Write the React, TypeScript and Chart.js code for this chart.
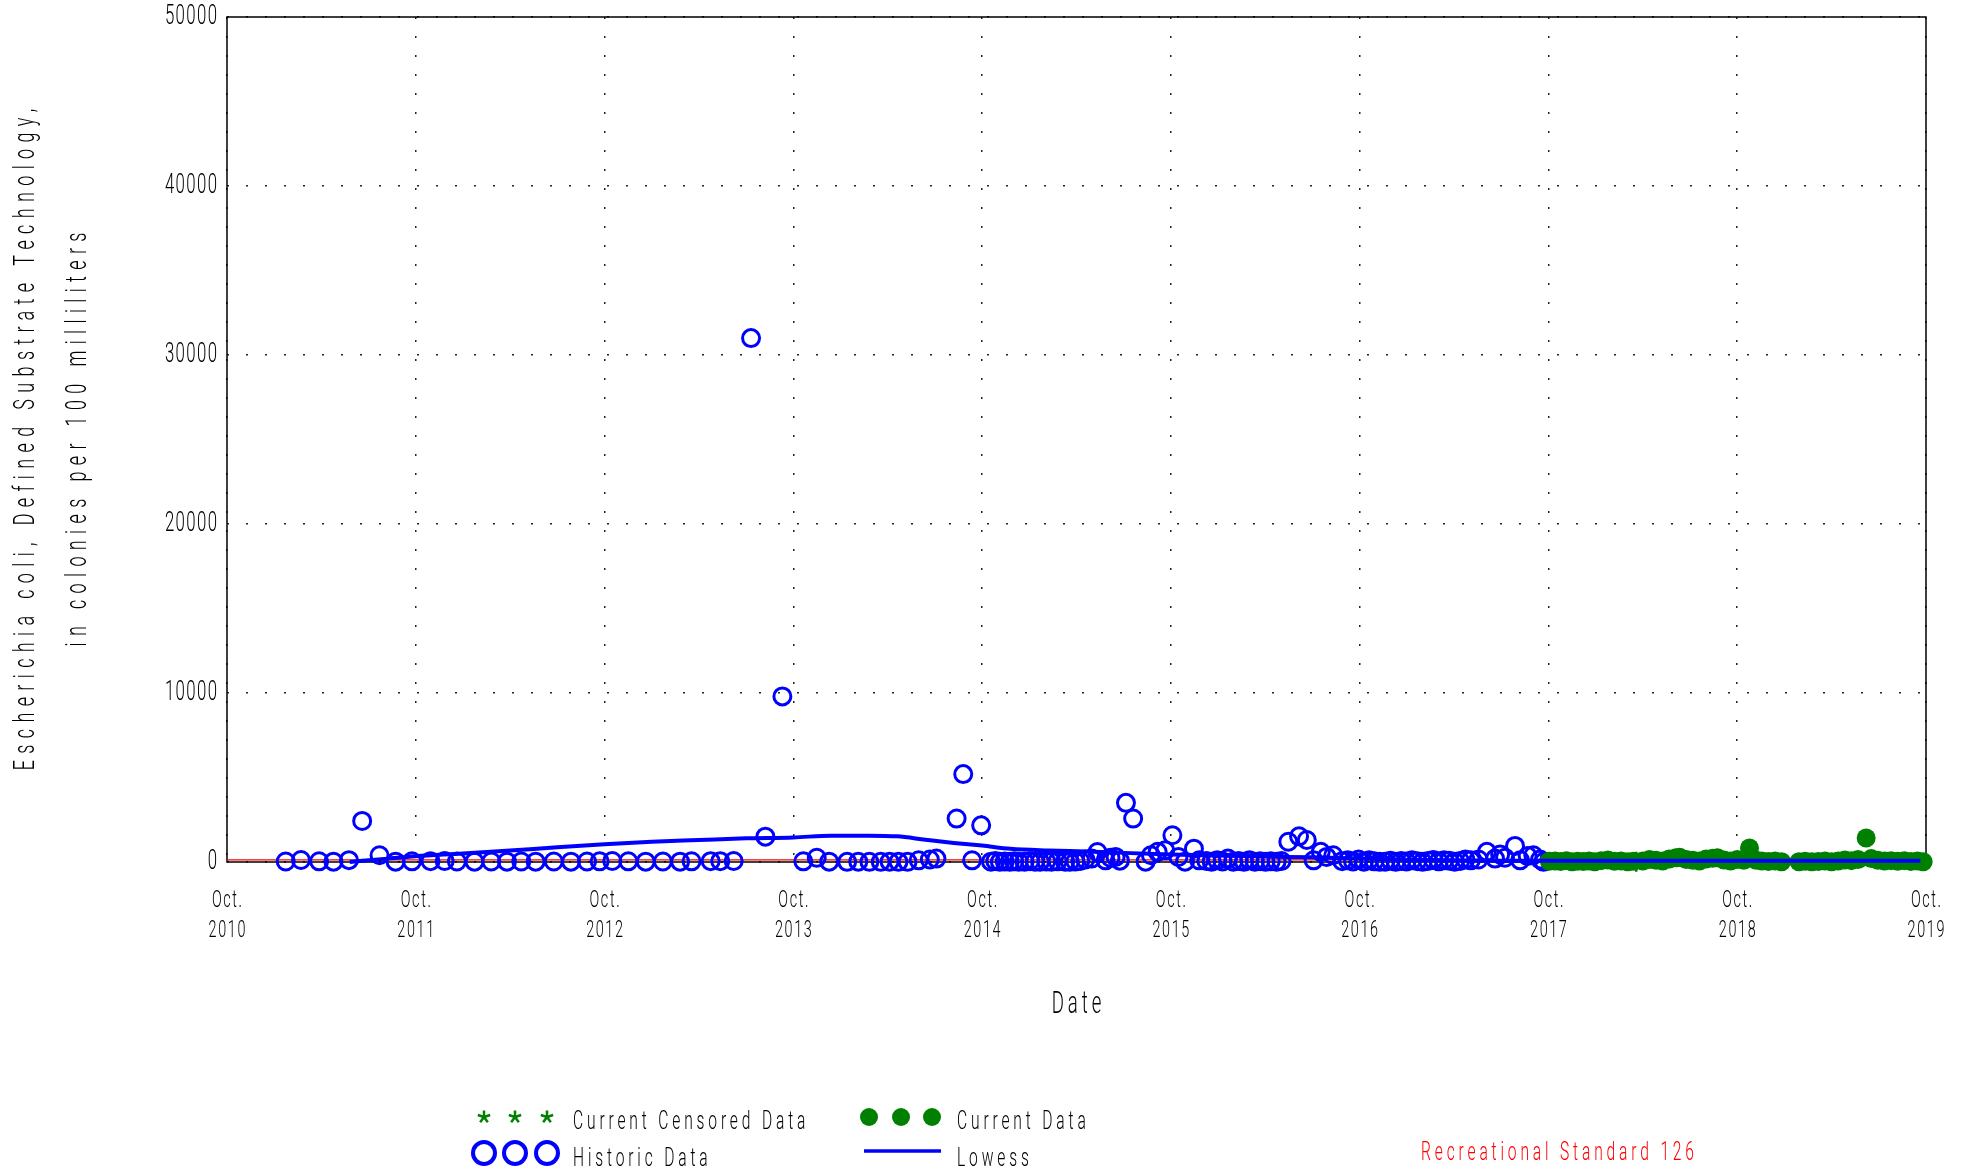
import React, { useEffect, useRef } from 'react';
import { Chart, registerables } from 'chart.js';

Chart.register(...registerables);

// ---------- data ----------
const X_TICKS = [2010.75, 2011.75, 2012.75, 2013.75, 2014.75, 2015.75, 2016.75, 2017.75, 2018.75, 2019.75];
const Y_TICKS = [0, 10000, 20000, 30000, 40000, 50000];
const STANDARD = 126;

const HIST_X = [
  2011.061, 2011.142, 2011.238, 2011.314, 2011.396, 2011.466, 2011.558, 2011.643, 2011.73, 2011.828,
  2011.903, 2011.968, 2012.061, 2012.15, 2012.233, 2012.309, 2012.385, 2012.481, 2012.572, 2012.657,
  2012.724, 2012.791, 2012.876, 2012.968, 2013.059, 2013.15, 2013.211, 2013.312, 2013.363, 2013.434,
  2013.526, 2013.602, 2013.692, 2013.803, 2013.874, 2013.94, 2014.035, 2014.094, 2014.153, 2014.213,
  2014.26, 2014.307, 2014.355, 2014.414, 2014.473, 2014.508, 2014.615, 2014.65, 2014.697, 2014.745,
  2014.797, 2014.82, 2014.844, 2014.87, 2014.897, 2014.92, 2014.944, 2014.975, 2015.004, 2015.03,
  2015.057, 2015.09, 2015.117, 2015.15, 2015.19, 2015.215, 2015.244, 2015.27, 2015.297, 2015.33,
  2015.361, 2015.404, 2015.43, 2015.457, 2015.48, 2015.512, 2015.55, 2015.616, 2015.644, 2015.68,
  2015.72, 2015.758, 2015.79, 2015.825, 2015.872, 2015.9, 2015.938, 2015.966, 2015.995, 2016.024,
  2016.052, 2016.08, 2016.109, 2016.137, 2016.166, 2016.195, 2016.223, 2016.251, 2016.279, 2016.31,
  2016.336, 2016.372, 2016.429, 2016.47, 2016.506, 2016.544, 2016.575, 2016.61, 2016.657, 2016.687,
  2016.715, 2016.744, 2016.772, 2016.8, 2016.828, 2016.856, 2016.885, 2016.913, 2016.941, 2016.97,
  2016.998, 2017.027, 2017.055, 2017.083, 2017.112, 2017.14, 2017.169, 2017.197, 2017.225, 2017.253,
  2017.282, 2017.31, 2017.339, 2017.38, 2017.424, 2017.467, 2017.494, 2017.52, 2017.573, 2017.6,
  2017.64, 2017.67, 2017.706, 2017.724,
];
const HIST_Y = [
  30, 120, 40, 20, 110, 2430, 400, 20, 40, 50,
  60, 30, 20, 30, 20, 30, 20, 30, 20, 30,
  40, 60, 40, 20, 30, 20, 40, 50, 50, 60,
  31000, 1500, 9800, 40, 250, 20, 10, 20, 10, 10,
  20, 10, 10, 100, 150, 200, 2570, 5200, 100, 2170,
  20, 60, 10, 30, 10, 40, 20, 10, 50, 20,
  10, 30, 20, 40, 20, 10, 30, 60, 150, 200,
  590, 100, 250, 300, 80, 3500, 2570, 20, 400, 600,
  690, 1580, 300, 20, 790, 100, 60, 20, 100, 30,
  200, 20, 60, 10, 100, 20, 50, 10, 40, 20,
  60, 1200, 1520, 1300, 100, 600, 300, 400, 50, 100,
  30, 150, 20, 100, 40, 10, 20, 80, 10, 60,
  30, 100, 50, 10, 60, 120, 40, 100, 80, 20,
  60, 150, 100, 150, 600, 200, 450, 250, 950, 100,
  350, 400, 150, 10,
];

const CUR_X = [
  2017.755, 2017.785, 2017.815, 2017.845, 2017.875, 2017.905, 2017.935, 2017.965, 2017.995, 2018.03,
  2018.065, 2018.1, 2018.135, 2018.17, 2018.2, 2018.25, 2018.285, 2018.32, 2018.355, 2018.39,
  2018.425, 2018.445, 2018.48, 2018.515, 2018.55, 2018.585, 2018.62, 2018.645, 2018.68, 2018.715,
  2018.75, 2018.785, 2018.815, 2018.85, 2018.88, 2018.915, 2018.95, 2018.985, 2019.077, 2019.11,
  2019.145, 2019.18, 2019.215, 2019.25, 2019.285, 2019.32, 2019.355, 2019.39, 2019.433, 2019.46,
  2019.495, 2019.53, 2019.565, 2019.6, 2019.635, 2019.67, 2019.705, 2019.735,
];
const CUR_Y = [
  40, 60, 30, 80, 20, 50, 30, 60, 20, 80,
  120, 40, 60, 20, 40, 60, 150, 100, 60, 180,
  250, 280, 150, 100, 60, 180, 220, 250, 120, 60,
  150, 100, 830, 100, 60, 30, 60, 20, 20, 40,
  10, 30, 60, 20, 60, 120, 80, 150, 1420, 200,
  100, 60, 80, 40, 80, 30, 60, 20,
];

const CENS_X = [2018.215];
const CENS_Y = [10];

const LOWESS_X = [
  2011.4, 2011.6, 2011.75, 2012.0, 2012.25, 2012.5, 2012.75, 2013.0, 2013.25, 2013.5,
  2013.75, 2013.95, 2014.15, 2014.3, 2014.45, 2014.6, 2014.75, 2014.9, 2015.1, 2015.3,
  2015.5, 2015.75, 2016.0, 2016.25, 2016.5, 2016.75, 2017.0, 2017.25, 2017.5, 2017.75,
  2018.5, 2019.72,
];
const LOWESS_Y = [
  0, 200, 340, 500, 680, 870, 1050, 1200, 1300, 1400,
  1450, 1560, 1560, 1520, 1320, 1130, 970, 780, 680, 620,
  540, 450, 380, 320, 280, 200, 140, 100, 80, 70,
  70, 70,
];

const Y_TITLE = ['Escherichia coli, Defined Substrate Technology,', 'in colonies per 100 milliliters'];
const X_TITLE = 'Date';
const LEGEND_LABELS = ['Current Censored Data', 'Current Data', 'Historic Data', 'Lowess'];
const STANDARD_LABEL = 'Recreational Standard 126';

// ---------- styling ----------
const W = 1970;
const H = 1176;
const FAMILY = 'Roboto, "Liberation Sans", sans-serif';
const WEIGHT = 300;
const SX = 0.6;
const SPACING: Record<number, number> = { 24: 2.7, 26: 6.4, 28: 2.3, 30: 10.6, 31: 6.6 };
const BLUE = '#0000ff';
const GREEN = '#008000';

const pts = (xs: number[], ys: number[]) => xs.map((x, i) => ({ x, y: ys[i] }));

function patchText(ctx: CanvasRenderingContext2D) {
  const orig = CanvasRenderingContext2D.prototype.fillText;
  (ctx as any).fillText = function (text: string, x: number, y: number) {
    const m = /(\d+(?:\.\d+)?)px/.exec(this.font);
    const size = m ? Math.round(parseFloat(m[1])) : 12;
    const sp = SPACING[size] ?? 0;
    const align = this.textAlign;
    // compensate the trailing letter spacing so alignment stays on the glyphs
    const shift = align === 'center' ? (sp * SX) / 2 : align === 'right' || align === 'end' ? sp * SX : 0;
    this.save();
    try {
      (this as any).letterSpacing = sp + 'px';
    } catch (e) {}
    this.translate(x, y);
    this.translate(shift, 0);
    this.scale(SX, 1);
    orig.call(this, text, 0, 0);
    this.restore();
  };
}

const framePlugin = {
  id: 'frame',
  beforeDatasetsDraw(chart: any) {
    const { ctx, chartArea: a } = chart;
    ctx.save();
    ctx.strokeStyle = '#000';
    ctx.lineWidth = 1.5;
    ctx.strokeRect(a.left, a.top, a.right - a.left, a.bottom - a.top);
    ctx.restore();
  },
};

const legendPlugin = {
  id: 'customLegend',
  afterDraw(chart: any) {
    const ctx: CanvasRenderingContext2D = chart.ctx;
    ctx.save();
    const row1 = 1117;
    const row2 = 1153;
    const symX = [484, 515, 547];
    const symX2 = [869, 901, 932];
    // stars
    ctx.strokeStyle = GREEN;
    ctx.lineWidth = 2.5;
    for (const x of symX) {
      const r = 6.5;
      ctx.beginPath();
      for (let k = 0; k < 5; k++) {
        const ang = -Math.PI / 2 + (k * 2 * Math.PI) / 5;
        ctx.moveTo(x, row1);
        ctx.lineTo(x + r * Math.cos(ang), row1 + r * Math.sin(ang));
      }
      ctx.stroke();
    }
    // open circles
    ctx.strokeStyle = BLUE;
    ctx.lineWidth = 4;
    for (const x of symX) {
      ctx.beginPath();
      ctx.arc(x, row2, 11, 0, Math.PI * 2);
      ctx.stroke();
    }
    // filled circles
    ctx.fillStyle = GREEN;
    for (const x of symX2) {
      ctx.beginPath();
      ctx.arc(x, row1, 9, 0, Math.PI * 2);
      ctx.fill();
    }
    // lowess line
    ctx.strokeStyle = BLUE;
    ctx.lineWidth = 3.5;
    ctx.beginPath();
    ctx.moveTo(864, 1151);
    ctx.lineTo(941, 1151);
    ctx.stroke();
    // labels
    ctx.font = `${WEIGHT} 26px ${FAMILY}`;
    ctx.textBaseline = 'middle';
    ctx.textAlign = 'left';
    ctx.fillStyle = '#000';
    ctx.fillText(LEGEND_LABELS[0], 573, row1 + 5);
    ctx.fillText(LEGEND_LABELS[1], 957, row1 + 5);
    ctx.fillText(LEGEND_LABELS[2], 573, row2 + 6);
    ctx.fillText(LEGEND_LABELS[3], 957, row2 + 6);
    ctx.fillStyle = '#ff0000';
    ctx.fillText(STANDARD_LABEL, 1421, 1153);
    ctx.restore();
  },
};

export default function App() {
  const ref = useRef<HTMLCanvasElement>(null);

  useEffect(() => {
    const canvas = ref.current;
    if (!canvas) return;
    const ctx = canvas.getContext('2d');
    if (!ctx) return;
    patchText(ctx);

    const gridOpts = { color: '#222', lineWidth: 1.5, drawTicks: false };
    const borderOpts = { display: false, dash: [2, 17] };

    const chart = new Chart(ctx, {
      type: 'scatter',
      data: {
        datasets: [
          {
            label: 'Lowess',
            data: pts(LOWESS_X, LOWESS_Y),
            showLine: true,
            borderColor: BLUE,
            borderWidth: 4,
            pointRadius: 0,
            cubicInterpolationMode: 'monotone',
            clip: false,
          } as any,
          {
            label: 'Current Data',
            data: pts(CUR_X, CUR_Y),
            pointStyle: 'circle',
            pointRadius: 9.5,
            backgroundColor: GREEN,
            borderColor: GREEN,
            borderWidth: 0,
            clip: false,
          },
          {
            label: 'Current Censored Data',
            data: pts(CENS_X, CENS_Y),
            pointStyle: 'star',
            pointRadius: 10,
            borderColor: GREEN,
            backgroundColor: GREEN,
            borderWidth: 2.5,
            clip: false,
          },
          {
            label: 'Historic Data',
            data: pts(HIST_X, HIST_Y),
            pointStyle: 'circle',
            pointRadius: 8.5,
            backgroundColor: 'rgba(0,0,0,0)',
            borderColor: BLUE,
            borderWidth: 3,
            clip: false,
          },
          {
            label: 'Recreational Standard',
            data: [
              { x: X_TICKS[0], y: STANDARD },
              { x: X_TICKS[X_TICKS.length - 1], y: STANDARD },
            ],
            showLine: true,
            borderColor: '#ff0000',
            borderWidth: 1.2,
            pointRadius: 0,
          } as any,
        ],
      },
      options: {
        responsive: false,
        animation: false,
        devicePixelRatio: 1,
        events: [],
        layout: { padding: { top: 17, right: 44, bottom: 0, left: 0 }, autoPadding: false },
        plugins: {
          legend: { display: false },
          tooltip: { enabled: false },
          title: { display: false },
        },
        scales: {
          x: {
            type: 'linear',
            min: X_TICKS[0],
            max: X_TICKS[X_TICKS.length - 1],
            afterBuildTicks: (s: any) => {
              s.ticks = X_TICKS.map((v) => ({ value: v }));
            },
            afterFit: (s: any) => {
              s.height = 314;
              s.paddingLeft = 0;
              s.paddingRight = 0;
            },
            ticks: {
              autoSkip: false,
              maxRotation: 0,
              padding: 24,
              color: '#000',
              font: { family: FAMILY, size: 24, weight: WEIGHT as any, lineHeight: '30px' as any },
              callback: (v: any) => ['Oct.', String(Math.round(Number(v) - 0.75))],
            },
            grid: gridOpts,
            border: borderOpts,
            title: {
              display: true,
              text: X_TITLE,
              color: '#000',
              font: { family: FAMILY, size: 31, weight: WEIGHT as any },
              padding: { top: 0, bottom: 152 },
            },
          },
          y: {
            type: 'linear',
            min: Y_TICKS[0],
            max: Y_TICKS[Y_TICKS.length - 1],
            afterBuildTicks: (s: any) => {
              s.ticks = Y_TICKS.map((v) => ({ value: v }));
            },
            afterFit: (s: any) => {
              s.width = 227;
              s.paddingTop = 0;
              s.paddingBottom = 0;
            },
            ticks: {
              padding: 10,
              color: '#000',
              font: { family: FAMILY, size: 28, weight: WEIGHT as any },
              callback: (v: any) => String(v),
            },
            grid: gridOpts,
            border: borderOpts,
            title: {
              display: true,
              text: Y_TITLE,
              color: '#000',
              font: { family: FAMILY, size: 30, weight: WEIGHT as any, lineHeight: '52px' as any },
              padding: 0,
            },
          },
        },
      },
      plugins: [framePlugin, legendPlugin],
    } as any);

    return () => chart.destroy();
  }, []);

  return (
    <div style={{ position: 'fixed', left: 0, top: 0, width: W, height: H, background: '#fff' }}>
      <canvas ref={ref} width={W} height={H} style={{ display: 'block', width: W, height: H }} />
    </div>
  );
}
